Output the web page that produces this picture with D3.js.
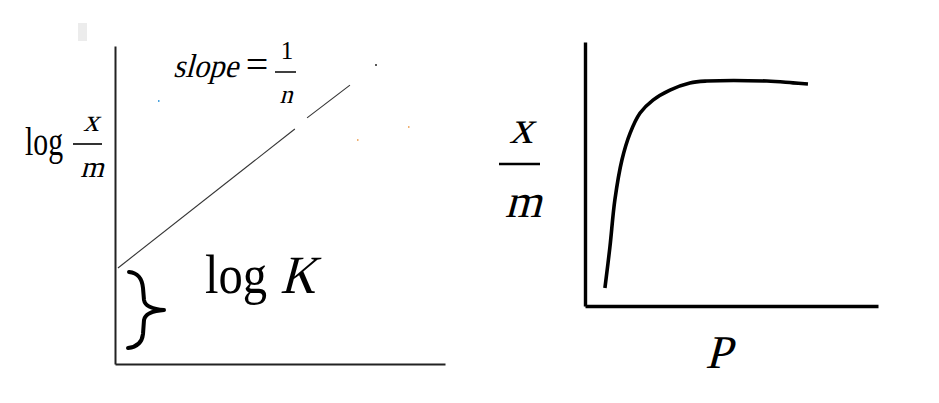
<!DOCTYPE html>
<html>
<head>
<meta charset="utf-8">
<script src="https://cdn.jsdelivr.net/npm/d3@7"></script>
<style>
  html, body { margin: 0; padding: 0; background: #fff; }
  svg { display: block; }
  text { font-family: "Liberation Serif", "Times New Roman", serif; fill: #000; }
</style>
</head>
<body>
<script>
// ---------- data ----------
// Left panel: Freundlich log plot (log x/m vs log P), arbitrary 0-10 units
const leftDomainX = [0, 10];
const leftDomainY = [0, 10];
const logLineSegment1 = [[0.09, 3.02], [5.45, 7.39]];
const logLineSegment2 = [[5.82, 7.74], [7.12, 8.77]];
const strayDot = [[7.91, 9.40]];

// Right panel: x/m vs P isotherm, arbitrary 0-10 units
const rightDomainX = [0, 10];
const rightDomainY = [0, 10];
const pressureP = [0.68, 0.85, 1.02, 1.26, 1.54, 1.88, 2.32, 2.90, 3.58, 4.16, 6.21, 7.10, 7.61];
const adsorbedXM = [0.68, 2.23, 4.02, 5.53, 6.55, 7.31, 7.80, 8.18, 8.45, 8.52, 8.52, 8.45, 8.41];

// Labels
const leftYLabel = { prefix: "log", num: "x", den: "m" };
const slopeLabel = { word: "slope", eq: "=", num: "1", den: "n" };
const interceptLabel = { prefix: "log", sym: "K" };
const rightYLabel = { num: "x", den: "m" };
const rightXLabel = "P";

// ---------- drawing ----------
const W = 939, H = 403;
const svg = d3.select("body").append("svg").attr("width", W).attr("height", H);

// synthetic italic (slanted serif) helper
function ital(g, x, y, size, str, anchor, sx) {
  const t = g.append("g").attr("transform", `translate(${x},${y}) skewX(-15) scale(${sx || 1},1)`)
    .append("text").attr("x", 0).attr("y", 0).attr("font-size", size)
    .attr("text-anchor", anchor || "start").text(str);
  return t;
}

// faint artifact rectangle near top-left
svg.append("rect").attr("x", 78).attr("y", 23).attr("width", 9).attr("height", 18).attr("fill", "#ececec");

// ===== Left panel =====
const lx = d3.scaleLinear().domain(leftDomainX).range([115, 445]);
const ly = d3.scaleLinear().domain(leftDomainY).range([364, 46]);
const gL = svg.append("g");

gL.append("g").attr("transform", `translate(${lx(0)},0)`)
  .call(d3.axisLeft(ly).tickValues([]).tickSizeOuter(0))
  .call(g => g.select(".domain").attr("stroke", "#222").attr("stroke-width", 2));
gL.append("g").attr("transform", `translate(0,${ly(0)})`)
  .call(d3.axisBottom(lx).tickValues([]).tickSizeOuter(0))
  .call(g => g.select(".domain").attr("stroke", "#222").attr("stroke-width", 2));

const lineL = d3.line().x(d => lx(d[0])).y(d => ly(d[1]));
[logLineSegment1, logLineSegment2].forEach(seg => {
  gL.append("path").attr("d", lineL(seg)).attr("fill", "none")
    .attr("stroke", "#333").attr("stroke-width", 1.1);
});
gL.selectAll(".dot").data(strayDot).join("circle")
  .attr("cx", d => lx(d[0])).attr("cy", d => ly(d[1])).attr("r", 1).attr("fill", "#222");

// tiny colour specks
[[158, 100, "#4aa3df"], [357, 139, "#f0b070"], [408, 126, "#f0b070"]].forEach(s => {
  svg.append("rect").attr("x", s[0]).attr("y", s[1]).attr("width", 1.5).attr("height", 2).attr("fill", s[2]);
});

// y label: log x/m
gL.append("text").attr("x", 25).attr("y", 155).attr("font-size", 39)
  .attr("textLength", 38).attr("lengthAdjust", "spacingAndGlyphs").text(leftYLabel.prefix);
ital(gL, 91, 131, 31, leftYLabel.num, "middle");
gL.append("line").attr("x1", 73).attr("x2", 102).attr("y1", 144).attr("y2", 144)
  .attr("stroke", "#000").attr("stroke-width", 1.6);
ital(gL, 92, 177, 30, leftYLabel.den, "middle");

// slope = 1/n
ital(gL, 173, 77, 33, slopeLabel.word, "start", 0.93);
gL.append("text").attr("x", 257).attr("y", 78).attr("font-size", 40)
  .attr("text-anchor", "middle").text(slopeLabel.eq);
gL.append("text").attr("x", 287).attr("y", 59).attr("font-size", 25)
  .attr("text-anchor", "middle").text(slopeLabel.num);
gL.append("line").attr("x1", 275).attr("x2", 296).attr("y1", 72).attr("y2", 72)
  .attr("stroke", "#000").attr("stroke-width", 1.5);
ital(gL, 286, 103, 26, slopeLabel.den, "middle");

// brace
const brace = "M129,272 C138,273 142,278 143,288 L144,300 C145,306 151,309 164,310 " +
              "C151,311 145,314 144,320 L143,334 C142,343 137,347 128,348";
gL.append("path").attr("d", brace).attr("fill", "none").attr("stroke", "#000")
  .attr("stroke-width", 4).attr("stroke-linecap", "round").attr("stroke-linejoin", "round");

// log K
gL.append("g").attr("transform", "translate(205,293) scale(0.9,1)")
  .append("text").attr("x", 0).attr("y", 0).attr("font-size", 54).attr("fill", "#111")
  .text(interceptLabel.prefix);
ital(gL, 280, 293, 54, interceptLabel.sym, "start", 0.9).attr("fill", "#111");

// ===== Right panel =====
const rx = d3.scaleLinear().domain(rightDomainX).range([585, 878]);
const ry = d3.scaleLinear().domain(rightDomainY).range([306, 42]);
const gR = svg.append("g");

gR.append("g").attr("transform", `translate(${rx(0)},0)`)
  .call(d3.axisLeft(ry).tickValues([]).tickSizeOuter(0))
  .call(g => g.select(".domain").attr("stroke", "#000").attr("stroke-width", 3.4));
gR.append("g").attr("transform", `translate(0,${ry(0)})`)
  .call(d3.axisBottom(rx).tickValues([]).tickSizeOuter(0))
  .call(g => g.select(".domain").attr("stroke", "#000").attr("stroke-width", 3.4));

const curveData = pressureP.map((p, i) => [p, adsorbedXM[i]]);
gR.append("path")
  .attr("d", d3.line().x(d => rx(d[0])).y(d => ry(d[1])).curve(d3.curveCatmullRom.alpha(0.5))(curveData))
  .attr("fill", "none").attr("stroke", "#000").attr("stroke-width", 3.6);

ital(gR, 521, 143, 47, rightYLabel.num, "middle");
gR.append("line").attr("x1", 499).attr("x2", 540).attr("y1", 164).attr("y2", 164)
  .attr("stroke", "#000").attr("stroke-width", 2.6);
ital(gR, 523, 217, 47, rightYLabel.den, "middle");
ital(gR, 718, 368, 47, rightXLabel, "middle");
</script>
</body>
</html>
